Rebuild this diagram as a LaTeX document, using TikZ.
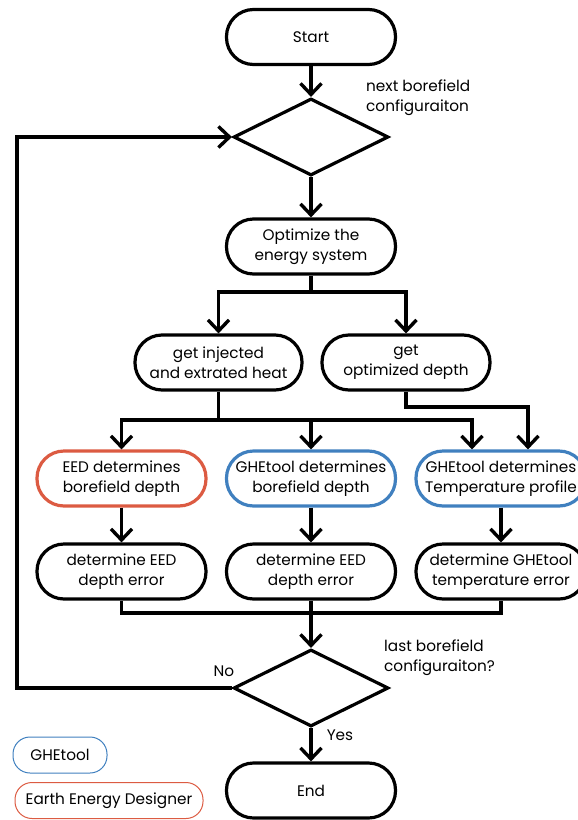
\documentclass[tikz,border=0pt]{standalone}
\usepackage{fontspec}
\setmainfont{Poppins}
\usetikzlibrary{shapes.geometric,arrows.meta}
\definecolor{eedred}{HTML}{DC5B42}
\definecolor{gheblue}{HTML}{4080BF}
\tikzset{
  box/.style={draw, line width=3.2pt, rounded corners=27pt, minimum width=169pt, minimum height=55pt, inner sep=0pt, align=center, font=\fontsize{15.3}{20}\selectfont},
  dec/.style={draw, line width=3.2pt, diamond, minimum width=155pt, minimum height=77pt, inner sep=0pt},
  legendbox/.style={draw, line width=1pt, rounded corners=17pt, minimum height=36pt, inner sep=0pt, align=center, font=\fontsize{15.3}{20}\selectfont},
  lbl/.style={align=left, inner sep=0pt, font=\fontsize{15.3}{20}\selectfont},
  conn/.style={line width=3.2pt},
  arr/.style={line width=3.4pt, -{Straight Barb[length=11pt,width=21pt]}},
}
\begin{document}
\begin{tikzpicture}[x=1pt,y=-1pt]
\useasboundingbox (0,0) rectangle (578,820);
\node[box] (start) at (311,37) {Start};
\node[dec] (d1) at (311,137) {};
\node[box] (opt) at (311,246.5) {Optimize the\\energy system};
\node[box, minimum width=167pt] (inj) at (218.5,362.5) {get injected\\and extrated heat};
\node[box, minimum width=168pt] (od) at (406,362.5) {get\\optimized depth};
\node[box, draw=eedred] (eed) at (121.5,478.5) {EED determines\\borefield depth};
\node[box, draw=gheblue] (gd) at (311,478.5) {GHEtool determines\\borefield depth};
\node[box, draw=gheblue, minimum width=170pt] (gt) at (501,478.5) {GHEtool determines\\Temperature profile};
\node[box] (e1) at (121.5,571.5) {determine EED\\depth error};
\node[box] (e2) at (311,571.5) {determine EED\\depth error};
\node[box, minimum width=170pt] (e3) at (501,571.5) {determine GHEtool\\temperature error};
\node[dec] (d2) at (311,688) {};
\node[box] (end) at (311,790.5) {End};
\node[legendbox, draw=gheblue, minimum width=94pt] (lg) at (60,755) {GHEtool};
\node[legendbox, draw=eedred, minimum width=188pt] (le) at (109,800.5) {Earth Energy Designer};

\node[lbl, anchor=west] (t1) at (366,98) {next borefield\\configuraiton};
\node[lbl, anchor=west] (t2) at (384,658) {last borefield\\configuraiton?};
\node[lbl] (tno) at (224,671) {No};
\node[lbl] (tyes) at (340,735) {Yes};

\coordinate (j1) at (311,292);
\coordinate (j2) at (218.5,420);
\coordinate (k) at (528,407);
\coordinate (j3) at (311,613);
\coordinate (lp) at (17,688);

\draw[arr] (start) -- (d1.north);
\draw[arr] (d1.south) -- (opt);
\draw[conn] (opt.south) -- (j1);
\draw[arr] (j1) -| (inj.north);
\draw[arr] (j1) -| (od.north);
\draw[conn] (inj.south) -- (j2);
\draw[arr] (j2) -| (eed.north);
\draw[arr] (j2) -| (gd.north);
\draw[arr] (j2) -| ([xshift=-29pt]gt.north);
\draw[arr] (od.south) |- (k) -- ([xshift=27pt]gt.north);
\draw[arr] (eed) -- (e1);
\draw[arr] (gd) -- (e2);
\draw[arr] (gt) -- (e3);
\draw[conn] (e1.south) |- (j3) -| (e3.south);
\draw[arr] (e2.south) -- (d2.north);
\draw[arr] (d2.west) -- (lp) |- (d1.west);
\draw[arr] (d2.south) -- (end);
\end{tikzpicture}
\end{document}
